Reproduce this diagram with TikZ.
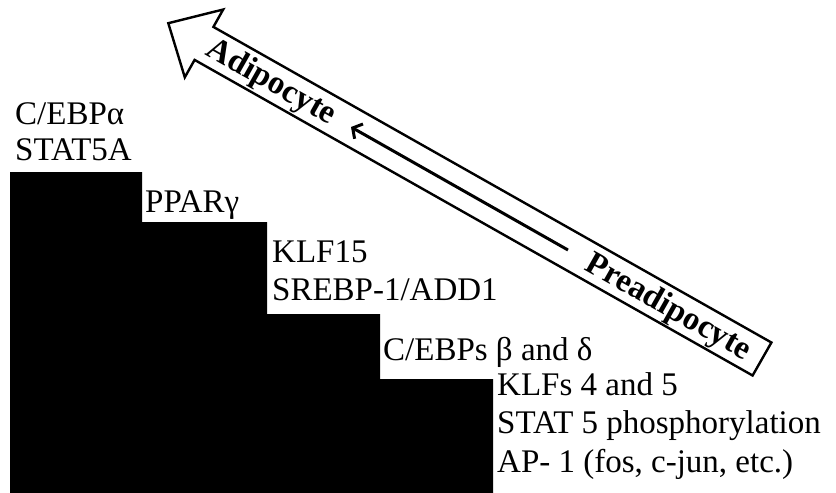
\documentclass[tikz,border=0pt]{standalone}
\usepackage{fontspec}
\setmainfont{Liberation Serif}
\usetikzlibrary{arrows.meta}
\tikzset{
  lbl/.style={anchor=base west, inner sep=0pt, font=\fontsize{33}{38}\selectfont},
  arrlbl/.style={anchor=center, inner sep=0pt, rotate=-29.5, font=\fontsize{33}{36}\selectfont\bfseries},
  bigarrow/.style={draw=black, line width=2.4pt, fill=white, line join=miter},
  stairs/.style={fill=black, draw=none},
  innerarrow/.style={line width=3pt, -{Straight Barb[length=7pt,width=17pt]}}
}
\begin{document}
\begin{tikzpicture}[x=1pt,y=-1pt]
\useasboundingbox (0,0) rectangle (836,493);
% staircase
\path[stairs] (10,172) -- (142,172) -- (142,222) -- (267,222) -- (267,314)
  -- (380,314) -- (380,379) -- (493,379) -- (493,493) -- (10,493) -- cycle;
% big hollow arrow
\coordinate (tip) at (168.3,23.2);
\coordinate (ub) at (223.2,9.5);
\coordinate (uj) at (213.4,26.9);
\coordinate (tu) at (771.4,342.5);
\coordinate (tl) at (752.6,375.5);
\coordinate (lj) at (194.6,59.9);
\coordinate (lb) at (184.8,77.3);
\path[bigarrow] (tip) -- (ub) -- (uj) -- (tu) -- (tl) -- (lj) -- (lb) -- cycle;
\node[arrlbl] (adi) at (271,83) {Adipocyte};
\node[arrlbl] (pre) at (668,308) {Preadipocyte};
\coordinate (ia) at (568,250);
\coordinate (ib) at (351,127);
\draw[innerarrow] (ia) -- (ib);
% labels
\node[lbl] (t1) at (15,124) {C/EBPα};
\node[lbl] (t2) at (15,160) {STAT5A};
\node[lbl] (t3) at (145,212) {PPARγ};
\node[lbl] (t4) at (272,262) {KLF15};
\node[lbl] (t5) at (272,300) {SREBP-1/ADD1};
\node[lbl] (t6) at (383,360) {C/EBPs β and δ};
\node[lbl] (t7) at (497,395) {KLFs 4 and 5};
\node[lbl] (t8) at (497,433) {STAT 5 phosphorylation};
\node[lbl] (t9) at (497,472) {AP- 1 (fos, c-jun, etc.)};
\end{tikzpicture}
\end{document}
